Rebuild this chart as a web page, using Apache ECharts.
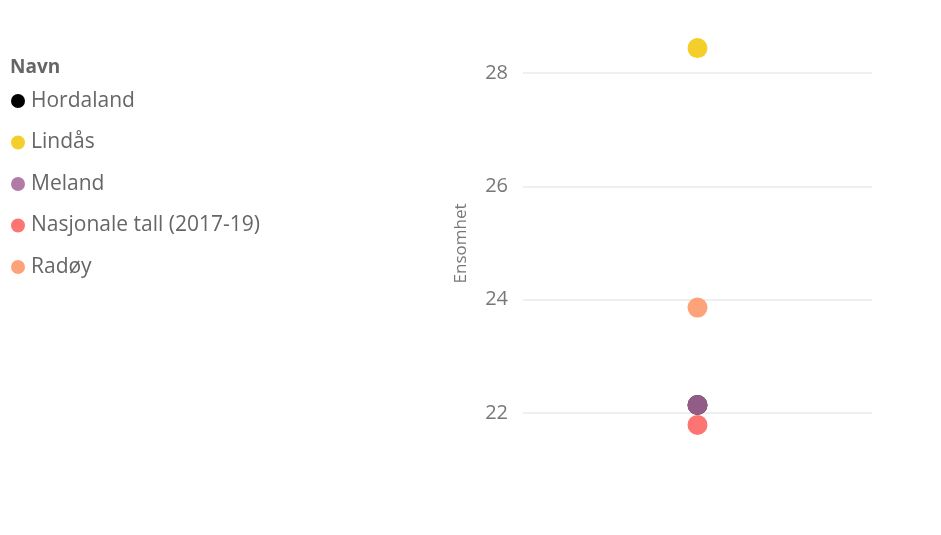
<!DOCTYPE html>
<html>
<head>
<meta charset="utf-8">
<script src="https://cdn.jsdelivr.net/npm/echarts@6/dist/echarts.min.js"></script>
<style>
  html, body { margin: 0; padding: 0; background: #fff; }
  #main { width: 941px; height: 535px; }
</style>
</head>
<body>
<div id="main"></div>
<script>
var myChart = echarts.init(document.getElementById('main'));

// data
var names = ['Hordaland', 'Lindås', 'Meland', 'Nasjonale tall (2017-19)', 'Radøy'];
var values = [22.14, 28.44, 22.14, 21.79, 23.86];
var colors = ['#000000', '#F2C80F', '#A66999', '#FD625E', '#FE9666'];
var category = ['Alle'];

var fontFam = '"Open Sans", "Noto Sans", sans-serif';

var series = names.map(function(n, i) {
  return {
    name: n,
    type: 'scatter',
    data: [[category[0], values[i]]],
    symbolSize: 20,
    itemStyle: { color: colors[i], opacity: i === 0 ? 1 : 0.88 },
    emphasis: { disabled: true }
  };
});

option = {
  animation: false,
  title: {
    text: 'Navn',
    left: 10,
    top: 58,
    padding: 0,
    textStyle: { fontFamily: fontFam, fontSize: 19, fontWeight: 'bold', color: '#666' }
  },
  legend: {
    orient: 'vertical',
    left: 11,
    top: 90,
    padding: 0,
    icon: 'circle',
    itemWidth: 14,
    itemHeight: 14,
    itemGap: 19.5,
    data: names,
    textStyle: { fontFamily: fontFam, fontSize: 21, lineHeight: 22, color: '#666', padding: [0, 0, 0, 1] }
  },
  grid: {
    left: 523,
    right: 69,
    top: 27.7,
    bottom: 8.7
  },
  xAxis: {
    type: 'category',
    data: category,
    show: false
  },
  yAxis: {
    type: 'value',
    min: 20,
    max: 28.8,
    interval: 2,
    name: 'Ensomhet',
    nameLocation: 'middle',
    nameGap: 53,
    nameTextStyle: { fontFamily: fontFam, fontSize: 17, color: '#777', padding: [0, 0, 0, 67] },
    axisLine: { show: false },
    axisTick: { show: false },
    axisLabel: {
      showMinLabel: false,
      showMaxLabel: false,
      margin: 15,
      fontFamily: fontFam,
      fontSize: 20,
      color: '#777'
    },
    splitLine: {
      showMinLine: false,
      showMaxLine: false,
      lineStyle: { color: '#eaeaea', width: 1.5 }
    }
  },
  series: series
};

myChart.setOption(option);
</script>
</body>
</html>
